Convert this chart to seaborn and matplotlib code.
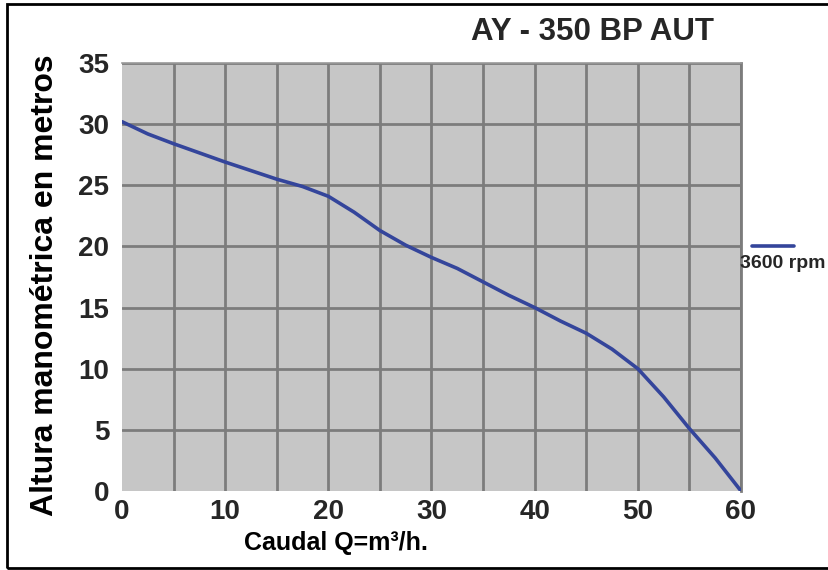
import matplotlib
matplotlib.use("Agg")
import matplotlib.pyplot as plt
import seaborn as sns
import pandas as pd
from matplotlib.lines import Line2D
from matplotlib.patches import Rectangle

# Data
caudal = [0, 2.5, 5, 7.5, 10, 12.5, 15, 17.5, 20, 22.5, 25, 27.5, 30,
          32.5, 35, 37.5, 40, 42.5, 45, 47.5, 50, 52.5, 55, 57.5, 60]
altura = [30.2, 29.2, 28.4, 27.65, 26.9, 26.2, 25.5, 24.9, 24.1, 22.8, 21.3, 20.1, 19.1,
          18.2, 17.1, 16.0, 15.0, 13.9, 12.9, 11.6, 10.0, 7.7, 5.1, 2.7, 0.0]
serie = "3600 rpm"
x_ticks = [0, 10, 20, 30, 40, 50, 60]
y_ticks = [0, 5, 10, 15, 20, 25, 30, 35]
title = "AY - 350 BP AUT"
xlabel = "Caudal Q=m³/h."
ylabel = "Altura manométrica en metros"

df = pd.DataFrame({"Q": caudal, "H": altura, "serie": serie})

sns.set_theme(style="white")
plt.rcParams["font.family"] = ["Liberation Sans", "DejaVu Sans"]

fig = plt.figure(figsize=(8.29, 5.70), dpi=100)
ax = fig.add_axes([122/829, 1-491/570, (741-122)/829, (491-63)/570])
ax.set_facecolor("#c6c6c6")

sns.lineplot(data=df, x="Q", y="H", ax=ax, color="#34459b", linewidth=2.6,
             legend=False, zorder=5)

ax.set_xlim(0, 60)
ax.set_ylim(0, 35)
ax.set_xticks(x_ticks)
ax.set_xticks([5, 15, 25, 35, 45, 55], minor=True)
ax.set_yticks(y_ticks)
ax.set_xticklabels([str(v) for v in x_ticks], fontsize=20, fontweight="bold")
ax.set_yticklabels([str(v) for v in y_ticks], fontsize=20, fontweight="bold")
ax.tick_params(axis="both", which="both", length=0)
ax.tick_params(axis="x", pad=6)
ax.tick_params(axis="y", pad=9)
ax.grid(True, which="both", color="#7c7c7c", linewidth=2.0)
ax.set_axisbelow(True)
for sp in ax.spines.values():
    sp.set_visible(False)
ax.spines["top"].set_visible(True)
ax.spines["top"].set_color("#9a9a9a")
ax.spines["top"].set_linewidth(1.2)
ax.spines["right"].set_visible(True)
ax.spines["right"].set_color("#7c7c7c")
ax.spines["right"].set_linewidth(2.0)
# hide grid lines lying on the left/bottom edges
ax.get_xgridlines()[0].set_visible(False)
ax.get_ygridlines()[0].set_visible(False)

ax.set_xlabel(xlabel, fontsize=18, fontweight="bold", color="black", va="center")
ax.xaxis.set_label_coords((336-122)/(741-122), -(543-491)/(491-63), transform=ax.transAxes)
ax.set_ylabel(ylabel, fontsize=23, fontweight="bold", color="black", va="center")
ax.yaxis.set_label_coords(-(122-45)/(741-122), (491-285)/(491-63), transform=ax.transAxes)

fig.text(593/829, 1-32/570, title, fontsize=22.5, fontweight="bold",
         ha="center", va="center")

# legend drawn to match the reference (line above label)
fig.add_artist(Line2D([752/829, 794/829], [1-246/570, 1-246/570],
                      color="#34459b", linewidth=2.6))
fig.text(740/829, 1-263/570, serie, fontsize=14, fontweight="bold",
         ha="left", va="center")

# figure border
fig.add_artist(Rectangle((7/829, 2/570), 1.02 - 7/829, 1 - 4/570 - 2/570,
                         transform=fig.transFigure, fill=False,
                         edgecolor="black", linewidth=2.0, clip_on=False))

fig.savefig("out.png", dpi=100, facecolor="white")
